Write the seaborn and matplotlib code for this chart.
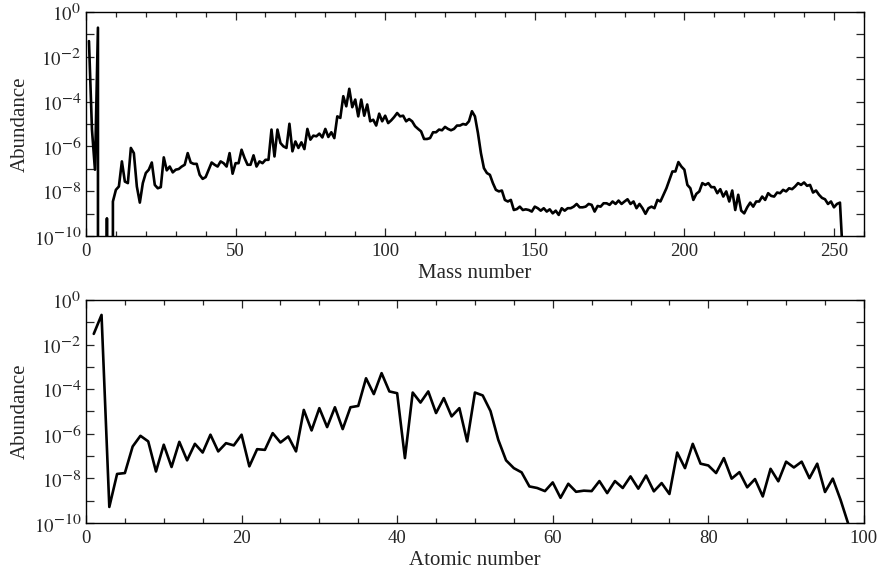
import numpy as np
import pandas as pd
import matplotlib
matplotlib.use("Agg")
import matplotlib.pyplot as plt
import seaborn as sns
from matplotlib.ticker import MultipleLocator, NullLocator, FixedLocator

NEG = float("-inf")  # zero abundance -> 10**-inf = 0

# mass numbers 1..253 and log10(abundance)
mass_number = list(range(1, 254))
mass_log_abund = [
    -1.30, -5.25, -7.04, -0.70, NEG, NEG, -9.21, NEG, -8.46, -7.94,
    -7.79, -6.67, -7.57, -7.64, -6.07, -6.30, -7.79, -8.51, -7.64, -7.19,
    -7.04, -6.72, -7.72, -7.87, -7.82, -6.49, -7.07, -6.90, -7.16, -7.04,
    -7.01, -6.90, -6.82, -6.30, -6.72, -6.78, -6.78, -7.27, -7.45, -7.37,
    -7.04, -6.72, -6.82, -6.90, -6.67, -6.75, -6.90, -6.30, -7.22, -6.75,
    -6.75, -6.15, -6.52, -6.82, -6.82, -6.40, -6.90, -6.67, -6.75, -6.60,
    -6.60, -5.25, -6.45, -5.25, -5.85, -6.00, -6.07, -4.99, -6.22, -5.78,
    -6.07, -5.82, -6.12, -5.22, -5.70, -5.52, -5.55, -5.43, -5.60, -5.22,
    -5.58, -5.37, -5.63, -4.66, -4.73, -3.76, -4.21, -3.43, -4.25, -3.91,
    -4.66, -3.91, -4.63, -4.13, -4.88, -4.81, -5.07, -4.54, -4.88, -4.63,
    -4.96, -4.84, -4.69, -4.51, -4.66, -4.63, -4.88, -4.78, -4.88, -5.10,
    -5.22, -5.33, -5.67, -5.67, -5.63, -5.37, -5.37, -5.25, -5.28, -5.13,
    -5.22, -5.28, -5.22, -5.07, -5.07, -5.00, -5.03, -4.88, -4.43, -4.66,
    -5.40, -6.30, -6.97, -7.19, -7.27, -7.64, -7.94, -8.01, -7.97, -8.39,
    -8.46, -8.39, -8.84, -8.80, -8.69, -8.84, -8.81, -8.84, -8.91, -8.69,
    -8.76, -8.87, -8.76, -8.91, -8.81, -8.99, -8.87, -9.06, -8.76, -8.87,
    -8.76, -8.76, -8.69, -8.57, -8.72, -8.72, -8.69, -8.57, -8.61, -8.91,
    -8.66, -8.69, -8.54, -8.54, -8.61, -8.46, -8.57, -8.42, -8.57, -8.46,
    -8.36, -8.57, -8.46, -8.76, -8.57, -8.76, -9.01, -8.76, -8.69, -8.76,
    -8.39, -8.46, -8.16, -7.87, -7.50, -7.12, -7.12, -6.70, -6.90, -7.04,
    -7.72, -7.87, -8.39, -8.12, -8.01, -7.64, -7.72, -7.64, -7.82, -7.82,
    -8.09, -7.91, -8.24, -8.01, -8.46, -7.97, -8.84, -8.16, -8.87, -8.99,
    -8.72, -8.51, -8.69, -8.46, -8.46, -8.24, -8.39, -8.09, -8.21, -8.24,
    -8.06, -8.09, -7.94, -8.01, -7.87, -7.91, -7.79, -7.64, -7.72, -7.61,
    -7.76, -7.72, -8.06, -7.97, -8.16, -8.30, -8.36, -8.57, -8.46, -8.72,
    -8.57, -8.51, -11.0,
]

# atomic numbers 1..98
atomic_number = list(range(1, 99))
atomic_log_abund = [
    -1.52, -0.67, -9.28, -7.80, -7.76, -6.57, -6.09, -6.34, -7.69, -6.49,
    -7.49, -6.36, -7.19, -6.45, -6.84, -6.04, -6.79, -6.42, -6.52, -6.04,
    -7.46, -6.69, -6.72, -5.97, -6.39, -6.12, -6.79, -4.93, -5.85, -4.85,
    -5.70, -4.81, -5.79, -4.81, -4.75, -3.51, -4.22, -3.28, -4.10, -4.18,
    -7.09, -4.15, -4.60, -4.10, -5.07, -4.40, -5.22, -4.85, -6.34, -4.15,
    -4.28, -4.98, -6.27, -7.19, -7.54, -7.73, -8.36, -8.43, -8.57, -8.18,
    -8.87, -8.24, -8.60, -8.55, -8.57, -8.12, -8.66, -8.12, -8.43, -7.91,
    -8.46, -7.87, -8.58, -8.21, -8.70, -6.84, -7.54, -6.45, -7.34, -7.42,
    -7.76, -7.09, -8.01, -7.72, -8.40, -8.03, -8.81, -7.57, -8.13, -7.25,
    -7.51, -7.25, -7.99, -7.34, -8.61, -8.01, -8.96, -10.05,
]

decades = list(range(-10, 1))


sns.set_style("ticks")
plt.rcParams["font.family"] = ["Liberation Serif", "DejaVu Serif"]
plt.rcParams["mathtext.fontset"] = "stix"

# bigger exponents on the y tick labels, like the original
try:
    import matplotlib._mathtext as _mt
    _mt.SHRINK_FACTOR = 0.85
except Exception:
    pass


def style_axis(ax, xmax, major, minor, xlabel):
    ax.set_yscale("log")
    ax.set_ylim(1e-10, 1)
    ax.set_xlim(0, xmax)
    ax.yaxis.set_major_locator(FixedLocator([10.0 ** d for d in decades]))
    ax.yaxis.set_minor_locator(NullLocator())
    ax.set_yticklabels([r"$10^{%d}$" % d if d % 2 == 0 else "" for d in decades])
    ax.xaxis.set_major_locator(MultipleLocator(major))
    ax.xaxis.set_minor_locator(MultipleLocator(minor))
    ax.tick_params(which="both", direction="in", top=True, right=True,
                   labelsize=13.5, width=0.9)
    ax.tick_params(which="major", length=5.5)
    ax.tick_params(which="minor", length=3.5)
    ax.tick_params(axis="x", pad=5)
    ax.set_xlabel(xlabel, fontsize=15, labelpad=3)
    ax.set_ylabel("Abundance", fontsize=15, labelpad=3)
    for sp in ax.spines.values():
        sp.set_linewidth(1.0)
        sp.set_color("black")


fig = plt.figure(figsize=(8.8, 5.76), dpi=100)
ax1 = fig.add_axes([0.0977, 0.5903, 0.884, 0.3889])
ax2 = fig.add_axes([0.0977, 0.0920, 0.884, 0.3872])

df_mass = pd.DataFrame({"A": mass_number,
                        "abund": 10.0 ** np.array(mass_log_abund)})
df_atom = pd.DataFrame({"Z": atomic_number,
                        "abund": 10.0 ** np.array(atomic_log_abund)})

sns.lineplot(data=df_mass, x="A", y="abund", ax=ax1, color="black",
             linewidth=1.9, estimator=None, sort=False)
sns.lineplot(data=df_atom, x="Z", y="abund", ax=ax2, color="black",
             linewidth=1.9, estimator=None, sort=False)

style_axis(ax1, 260, 50, 10, "Mass number")
style_axis(ax2, 100, 20, 5, "Atomic number")

fig.savefig("out.png", dpi=100)
